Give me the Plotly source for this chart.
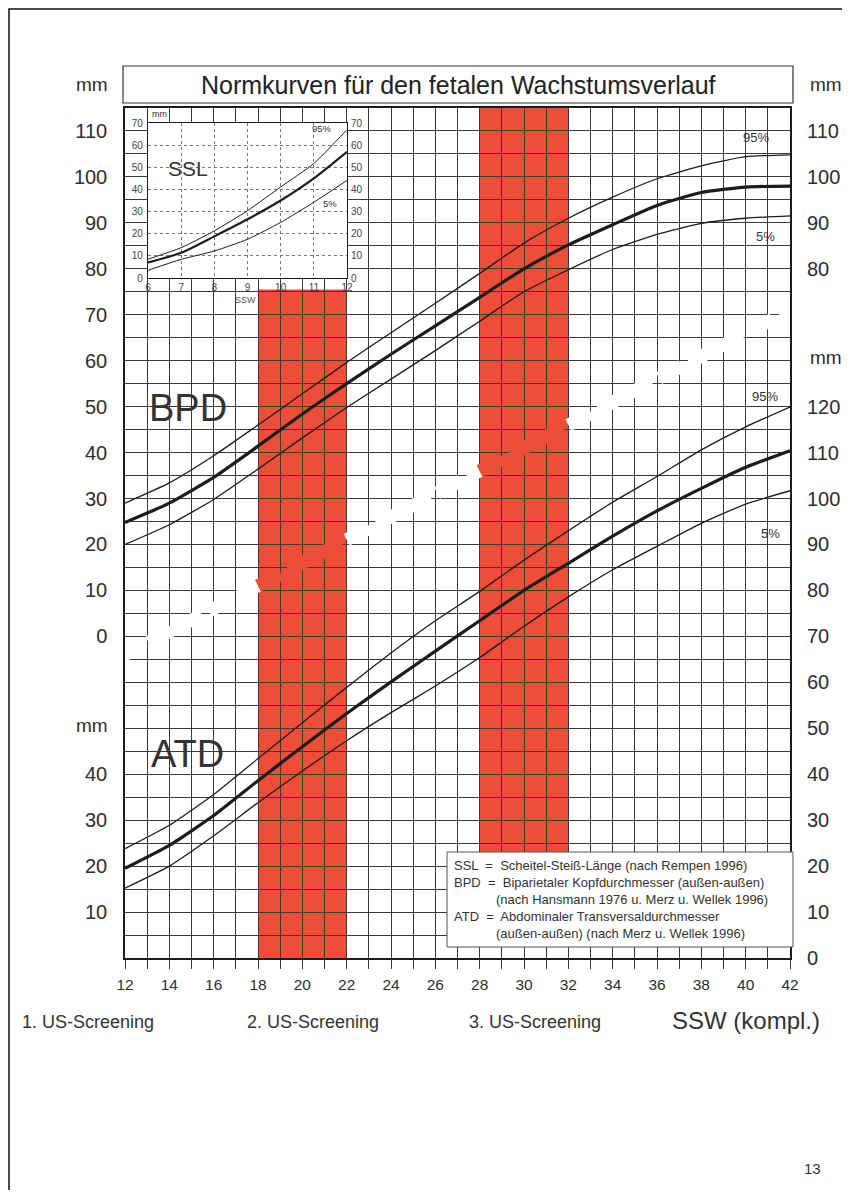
import plotly.graph_objects as go

# ---------------- data ----------------
WEEKS = [12, 14, 16, 18, 20, 22, 24, 26, 28, 30, 32, 34, 36, 38, 40, 42]

BPD_P95 = [29.0, 33.4, 39.3, 46.0, 52.8, 59.6, 66.1, 72.5, 79.0, 85.6, 91.0, 95.6, 99.6, 102.4, 104.4, 104.8]
BPD_P50 = [24.8, 29.0, 34.6, 41.4, 48.4, 55.0, 61.4, 67.6, 73.8, 80.0, 85.2, 89.6, 93.8, 96.6, 97.8, 98.0]
BPD_P05 = [20.0, 24.3, 29.8, 36.4, 43.2, 49.8, 56.0, 62.2, 68.6, 75.0, 79.8, 84.2, 87.5, 89.9, 91.0, 91.5]

ATD_P95 = [23.8, 28.9, 35.6, 43.4, 51.2, 58.9, 66.4, 73.4, 79.8, 86.6, 93.0, 99.2, 104.8, 110.6, 115.6, 119.9]
ATD_P50 = [19.5, 24.5, 31.0, 38.6, 46.0, 53.2, 60.1, 66.8, 73.4, 80.0, 85.9, 91.8, 97.3, 102.2, 106.8, 110.4]
ATD_P05 = [15.2, 20.0, 26.6, 33.8, 40.7, 47.3, 53.4, 59.2, 65.4, 72.2, 78.6, 84.5, 89.6, 94.6, 98.8, 101.7]

SSL_WEEKS = [6, 7, 8, 9, 10, 11, 12]
SSL_P95 = [8.5, 13.7, 21.3, 30.4, 41.1, 51.7, 67.0]
SSL_P50 = [7.0, 11.4, 18.8, 26.5, 35.0, 45.0, 57.0]
SSL_P05 = [3.5, 8.4, 12.2, 17.5, 25.1, 34.2, 44.1]

BPD_OFFSET = 70          # BPD scale sits 70 mm above the ATD scale
BPD_TICKS = [0, 10, 20, 30, 40, 50, 60, 70, 80, 90, 100, 110]
ATD_LEFT_TICKS = [10, 20, 30, 40]
ATD_RIGHT_TICKS = [0, 10, 20, 30, 40, 50, 60, 70, 80, 90, 100, 110, 120]
BPD_RIGHT_TICKS = [80, 90, 100, 110]
SSL_TICKS = [0, 10, 20, 30, 40, 50, 60, 70]
X_TICKS = list(range(12, 43))
X_LABEL_EVERY = 2

SCREEN_START = [18, 28]
SCREEN_END = [22, 32]

BREAK_X = [11.7, 42.3]
BREAK_Y = [65.3, 141.7]

# ---------------- layout helpers ----------------
FONT = "Liberation Sans, Arial, Helvetica, sans-serif"
INK = "#1c1c1c"
TXT = "#2e2e2e"
GRID = "#3a3a3a"
RED = "#EE4D38"
OFF = 8                     # browser body margin
W, H = 850 - OFF, 1198 - 2 * OFF
L, T = 125 - OFF, 108 - OFF
R = W - (790 - OFF)
B = H - (958 - OFF)
PW, PH = W - L - R, H - T - B
Y_TOP = 185


def px_x(p):
    return (p - OFF - L) / PW


def px_y(p):
    return (H - B - (p - OFF)) / PH


fig = go.Figure()

# break line (white, erasing grid) with red parts inside the screening bands
def break_u(x):
    return BREAK_Y[0] + (x - BREAK_X[0]) * (BREAK_Y[1] - BREAK_Y[0]) / (BREAK_X[1] - BREAK_X[0])

edges = [BREAK_X[0]] + sorted(SCREEN_START + SCREEN_END) + [BREAK_X[1]]
for i in range(len(edges) - 1):
    a, b = edges[i], edges[i + 1]
    inside = any(s <= a and b <= e for s, e in zip(SCREEN_START, SCREEN_END))
    fig.add_trace(go.Scatter(
        x=[a, b], y=[break_u(a), break_u(b)], mode="lines",
        line=dict(color=RED if inside else "white", width=13, dash="26px,8px"),
        hoverinfo="skip", showlegend=False, cliponaxis=False))

# main curves
for series, off in [(BPD_P95, BPD_OFFSET), (BPD_P50, BPD_OFFSET), (BPD_P05, BPD_OFFSET),
                    (ATD_P95, 0), (ATD_P50, 0), (ATD_P05, 0)]:
    thick = series is BPD_P50 or series is ATD_P50
    fig.add_trace(go.Scatter(
        x=WEEKS, y=[v + off for v in series], mode="lines",
        line=dict(color=INK, width=3.2 if thick else 1.3, shape="spline", smoothing=0.5),
        hoverinfo="skip", showlegend=False))

# dummy trace for right axis
fig.add_trace(go.Scatter(x=[12], y=[0], yaxis="y2", mode="markers",
                         marker=dict(opacity=0), showlegend=False, hoverinfo="skip"))

# inset SSL curves
for series in [SSL_P95, SSL_P50, SSL_P05]:
    thick = series is SSL_P50
    fig.add_trace(go.Scatter(
        x=SSL_WEEKS, y=series, xaxis="x2", yaxis="y3", mode="lines",
        line=dict(color=INK, width=2.2 if thick else 1.0, shape="spline", smoothing=0.6),
        hoverinfo="skip", showlegend=False))
fig.add_trace(go.Scatter(x=[6], y=[0], xaxis="x2", yaxis="y4", mode="markers",
                         marker=dict(opacity=0), showlegend=False, hoverinfo="skip"))

# ---------------- axes ----------------
y_vals = list(range(0, Y_TOP + 1, 5))
left_text = []
for u in y_vals:
    if (u - BPD_OFFSET) in BPD_TICKS:
        left_text.append(str(u - BPD_OFFSET))
    elif u in ATD_LEFT_TICKS:
        left_text.append(str(u))
    else:
        left_text.append("")
right_vals = ATD_RIGHT_TICKS + [v + BPD_OFFSET for v in BPD_RIGHT_TICKS]
right_text = [str(v) for v in ATD_RIGHT_TICKS] + [str(v) for v in BPD_RIGHT_TICKS]

x_text = [str(w) if (w - X_TICKS[0]) % X_LABEL_EVERY == 0 else "" for w in X_TICKS]

inset_x0, inset_x1 = px_x(148), px_x(347)
inset_y0, inset_y1 = px_y(278), px_y(123)

fig.update_layout(
    width=W, height=H,
    margin=dict(l=L, r=R, t=T, b=B, autoexpand=False),
    paper_bgcolor="white", plot_bgcolor="white",
    font=dict(family=FONT, color=INK),
    showlegend=False, hovermode=False,
    xaxis=dict(range=[12, 42], tickmode="array", tickvals=X_TICKS, ticktext=x_text,
               showgrid=True, gridcolor=GRID, gridwidth=1.2, zeroline=False,
               ticks="outside", ticklen=9, tickcolor=GRID, tickwidth=1.2,
               showline=True, mirror=True, linecolor=INK, linewidth=1.5,
               tickfont=dict(size=15.5, color=TXT), ticklabelstandoff=3,
               layer="below traces"),
    yaxis=dict(range=[0, Y_TOP], tickmode="array", tickvals=y_vals, ticktext=left_text,
               showgrid=True, gridcolor=GRID, gridwidth=1.2, zeroline=False,
               ticks="", showline=True, mirror=True, linecolor=INK, linewidth=1.5,
               tickfont=dict(size=20, color=TXT), ticklabelstandoff=12,
               layer="below traces"),
    yaxis2=dict(range=[0, Y_TOP], overlaying="y", side="right", tickmode="array",
                tickvals=right_vals, ticktext=right_text, showgrid=False, zeroline=False,
                ticks="", showline=False, tickfont=dict(size=20, color=TXT),
                ticklabelstandoff=16),
    xaxis2=dict(domain=[inset_x0, inset_x1], anchor="y3", range=[6, 12],
                tickmode="array", tickvals=SSL_WEEKS, showgrid=True, gridcolor="#777",
                griddash="dot", gridwidth=1, zeroline=False, ticks="",
                showline=True, mirror=True, linecolor=INK, linewidth=1.2,
                tickfont=dict(size=10, color="#444"), ticklabelstandoff=0),
    yaxis3=dict(domain=[inset_y0, inset_y1], anchor="x2", range=[0, 70],
                tickmode="array", tickvals=SSL_TICKS, showgrid=True, gridcolor="#777",
                griddash="dot", gridwidth=1, zeroline=False, ticks="",
                showline=True, mirror=True, linecolor=INK, linewidth=1.2,
                tickfont=dict(size=10, color="#444"), ticklabelstandoff=2),
    yaxis4=dict(overlaying="y3", anchor="x2", side="right", range=[0, 70],
                tickmode="array", tickvals=SSL_TICKS, showgrid=False, zeroline=False,
                ticks="", showline=False, tickfont=dict(size=10, color="#444"),
                ticklabelstandoff=3),
)

shapes = []
# screening bands
band_tops = [BPD_OFFSET + 75.5, Y_TOP]
band_bottoms = [0, 23]
for s, e, y0, y1 in zip(SCREEN_START, SCREEN_END, band_bottoms, band_tops):
    shapes.append(dict(type="rect", xref="x", yref="y", x0=s, x1=e, y0=y0, y1=y1,
                       fillcolor=RED, line=dict(width=0), layer="below"))
# inset white background
shapes.append(dict(type="rect", xref="x2 domain", yref="y3 domain", x0=0, x1=1, y0=0, y1=1,
                   fillcolor="white", line=dict(width=0), layer="below"))
# legend box
shapes.append(dict(type="rect", xref="paper", yref="paper",
                   x0=px_x(447), x1=px_x(793), y0=px_y(947), y1=px_y(852),
                   fillcolor="white", line=dict(color="#555", width=1), layer="above"))
# title box
shapes.append(dict(type="rect", xref="paper", yref="paper",
                   x0=px_x(123), x1=px_x(793), y0=px_y(103), y1=px_y(66),
                   fillcolor="white", line=dict(color="#333", width=1.2)))
# page frame (left, top, right)
shapes.append(dict(type="path", xref="paper", yref="paper",
                   path="M {a},{b} L {a},{c} L {d},{c} L {d},{b}".format(
                       a=px_x(9), b=px_y(1240), c=px_y(9), d=px_x(846)),
                   line=dict(color="#111", width=1.5)))
fig.update_layout(shapes=shapes)

ann = []


def text(x, y, s, size, xref="paper", yref="paper", xanchor="center", color=TXT, yanchor="middle"):
    ann.append(dict(x=x, y=y, xref=xref, yref=yref, text=s, showarrow=False,
                    xanchor=xanchor, yanchor=yanchor,
                    font=dict(family=FONT, size=size, color=color)))


text(px_x(458), px_y(85), "Normkurven für den fetalen Wachstumsverlauf", 25, color="#222")
text(px_x(92), px_y(85), "mm", 19)
text(px_x(826), px_y(85), "mm", 19)
text(px_x(826), px_y(357), "mm", 19)
text(px_x(92), px_y(725), "mm", 19)

text(14.86, 119.8, "BPD", 38, xref="x", yref="y", color="#333")
text(14.8, 44.5, "ATD", 38, xref="x", yref="y", color="#333")

text(40.45, 178.5, "95%", 13, xref="x", yref="y", color="#333")
text(40.9, 157.0, "5%", 13, xref="x", yref="y", color="#333")
text(40.85, 122.3, "95%", 13, xref="x", yref="y", color="#333")
text(41.1, 92.5, "5%", 13, xref="x", yref="y", color="#333")

# inset labels
text(7.2, 49.5, "SSL", 21, xref="x2", yref="y3", color="#333")
text(11.25, 67.5, "95%", 9.5, xref="x2", yref="y3", color="#333")
text(11.5, 33.5, "5%", 9.5, xref="x2", yref="y3", color="#333")
text(px_x(159), px_y(114), "mm", 9, color="#333")
text(px_x(245), px_y(300), "SSW", 9, color="#555")

# legend text
leg_lines = [
    (452, 865, "SSL  =  Scheitel-Steiß-Länge (nach Rempen 1996)"),
    (452, 882, "BPD  =  Biparietaler Kopfdurchmesser (außen-außen)"),
    (494, 899, "(nach Hansmann 1976 u. Merz u. Wellek 1996)"),
    (452, 916, "ATD  =  Abdominaler Transversaldurchmesser"),
    (494, 933, "(außen-außen) (nach Merz u. Wellek 1996)"),
]
for xp, yp, s in leg_lines:
    text(px_x(xp), px_y(yp), s, 13, xanchor="left", color="#333")

# bottom labels
text(px_x(20), px_y(1022), "1. US-Screening", 18, xanchor="left", color="#333")
text(px_x(245), px_y(1022), "2. US-Screening", 18, xanchor="left", color="#333")
text(px_x(467), px_y(1022), "3. US-Screening", 18, xanchor="left", color="#333")
text(px_x(822), px_y(1020), "SSW (kompl.)", 24, xanchor="right", color="#333")
text(px_x(812), px_y(1168), "13", 15, color="#333")

fig.update_layout(annotations=ann)

fig.write_html("out.html")
